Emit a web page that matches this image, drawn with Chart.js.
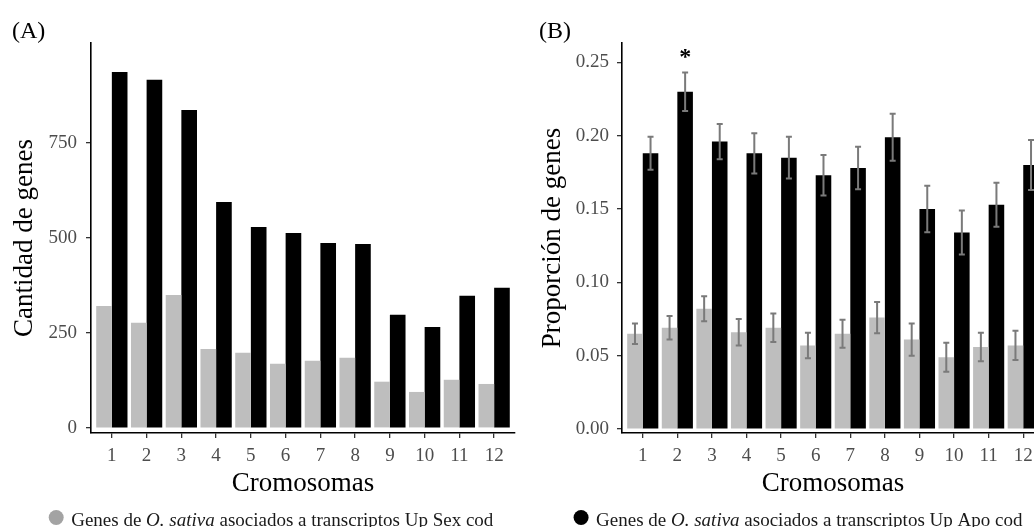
<!DOCTYPE html>
<html>
<head>
<meta charset="utf-8">
<script src="https://cdn.jsdelivr.net/npm/chart.js@4.4.1/dist/chart.umd.min.js"></script>
<style>
  html, body { margin: 0; padding: 0; background: #fff; overflow: hidden; }
  #lienzo { position: relative; width: 1034px; height: 527px; overflow: hidden; }
  canvas { position: absolute; top: 0; }
  #graficoA { left: 0; }
  #graficoB { left: 520px; }
</style>
</head>
<body>
<div id="lienzo">
  <canvas id="graficoA" width="542" height="527"></canvas>
  <canvas id="graficoB" width="556" height="527"></canvas>
</div>
<script>
const cromosomas = [1, 2, 3, 4, 5, 6, 7, 8, 9, 10, 11, 12];

// (A) cantidad de genes por cromosoma
const cantidadSex = [321, 277, 350, 208, 198, 169, 177, 185, 122, 95, 127, 116];
const cantidadApo = [937, 916, 837, 595, 529, 513, 487, 484, 298, 266, 348, 369];
const ticksCantidad = [0, 250, 500, 750];

// (B) proporción de genes por cromosoma, con su error
const proporcionSex = [0.065, 0.069, 0.082, 0.066, 0.069, 0.057, 0.065, 0.076, 0.061, 0.049, 0.056, 0.057];
const errorSex = [0.007, 0.008, 0.0085, 0.009, 0.0097, 0.0087, 0.0095, 0.0107, 0.011, 0.0099, 0.0097, 0.010];
const proporcionApo = [0.188, 0.230, 0.196, 0.188, 0.185, 0.173, 0.178, 0.199, 0.150, 0.134, 0.153, 0.180];
const errorApo = [0.0113, 0.0131, 0.012, 0.0137, 0.0142, 0.0138, 0.0145, 0.016, 0.0158, 0.015, 0.015, 0.017];
const ticksProporcion = [0, 0.05, 0.10, 0.15, 0.20, 0.25];
const significancia = ['', '*', '', '', '', '', '', '', '', '', '', ''];

const leyendaSex = ['Genes de ', 'O. sativa', ' asociados a transcriptos Up Sex cod'];
const leyendaApo = ['Genes de ', 'O. sativa', ' asociados a transcriptos Up Apo cod'];

const FUENTE = "'Liberation Serif', serif";
const GRIS = '#bebebe';
const NEGRO = '#000000';

Chart.defaults.font.family = FUENTE;

const puntos = (valores) => cromosomas.map((c, i) => ({x: c, y: valores[i]}));

// etiqueta del panel, barras de error, asteriscos y leyenda al pie
const anotaciones = {
  id: 'anotaciones',
  afterDatasetsDraw(chart) {
    const ctx = chart.ctx;
    const escalaY = chart.scales.y;
    ctx.save();
    chart.data.datasets.forEach((ds, d) => {
      if (!ds.errores) return;
      const meta = chart.getDatasetMeta(d);
      meta.data.forEach((barra, i) => {
        const v = ds.data[i].y;
        const e = ds.errores[i];
        const arriba = escalaY.getPixelForValue(v + e);
        const abajo = escalaY.getPixelForValue(v - e);
        ctx.strokeStyle = '#7a7a7a';
        ctx.lineWidth = 2;
        ctx.beginPath();
        ctx.moveTo(barra.x, arriba);
        ctx.lineTo(barra.x, abajo);
        ctx.moveTo(barra.x - 3, arriba);
        ctx.lineTo(barra.x + 3, arriba);
        ctx.moveTo(barra.x - 3, abajo);
        ctx.lineTo(barra.x + 3, abajo);
        ctx.stroke();
        if (ds.marcas && ds.marcas[i]) {
          ctx.fillStyle = '#000';
          ctx.font = `bold 24px ${FUENTE}`;
          ctx.textAlign = 'center';
          ctx.textBaseline = 'alphabetic';
          ctx.fillText(ds.marcas[i], barra.x, arriba - 8);
        }
      });
    });
    ctx.restore();
  },
  afterDraw(chart, args, opts) {
    const ctx = chart.ctx;
    ctx.save();
    ctx.fillStyle = '#000';
    ctx.font = `24px ${FUENTE}`;
    ctx.textAlign = 'left';
    ctx.textBaseline = 'alphabetic';
    ctx.fillText(opts.etiqueta, opts.etiquetaX, 37.5);

    const partes = opts.leyenda;
    const fuentes = partes.map((p, i) => (i === 1 ? 'italic ' : '') + `19px ${FUENTE}`);
    let ancho = 0;
    partes.forEach((p, i) => { ctx.font = fuentes[i]; ancho += ctx.measureText(p).width; });
    const r = 7.5, hueco = 15;
    let x = chart.width / 2 - (r + hueco + ancho) / 2;
    const yCirculo = chart.height - 9.5;
    ctx.fillStyle = opts.colorPunto;
    ctx.beginPath();
    ctx.arc(x + r, yCirculo, r, 0, Math.PI * 2);
    ctx.fill();
    x += r + hueco;
    ctx.fillStyle = '#1a1a1a';
    partes.forEach((p, i) => {
      ctx.font = fuentes[i];
      ctx.fillText(p, x, chart.height - 1.5);
      x += ctx.measureText(p).width;
    });
    ctx.restore();
  }
};

function opciones(cfg) {
  const ejeComun = {
    grid: { drawOnChartArea: false, offset: false, tickLength: 5, color: '#333333', lineWidth: 1.3 },
    border: { display: true, color: '#000', width: 1.6 }
  };
  return {
    responsive: false,
    animation: false,
    layout: { padding: { top: 43, right: cfg.derecha, bottom: 27, left: 0 } },
    datasets: { bar: { categoryPercentage: 0.9, barPercentage: 1.0, borderWidth: 0 } },
    scales: {
      x: {
        ...ejeComun,
        type: 'linear',
        offset: false,
        min: 0.4,
        max: 12.6,
        afterBuildTicks: (eje) => { eje.ticks = cromosomas.map(v => ({value: v})); },
        afterFit: (eje) => { eje.height = 67; },
        ticks: { color: '#4d4d4d', font: { size: 19 }, padding: 7, autoSkip: false, maxRotation: 0,
                 callback: (v) => String(v) },
        title: { display: true, text: 'Cromosomas', color: '#000', font: { size: 27 }, padding: 0 }
      },
      y: {
        ...ejeComun,
        min: cfg.min,
        max: cfg.max,
        afterBuildTicks: (eje) => { eje.ticks = cfg.ticks.map(v => ({value: v})); },
        afterFit: (eje) => { eje.width = cfg.anchoY; },
        ticks: { color: '#4d4d4d', font: { size: 19 }, padding: cfg.padTicks, callback: cfg.formato },
        title: { display: true, text: cfg.titulo, color: '#000', font: { size: 27 }, padding: { top: cfg.padTitulo } }
      }
    },
    plugins: {
      legend: { display: false },
      tooltip: { enabled: false },
      anotaciones: { etiqueta: cfg.etiqueta, etiquetaX: cfg.etiquetaX, leyenda: cfg.leyenda, colorPunto: cfg.colorPunto }
    }
  };
}

new Chart(document.getElementById('graficoA'), {
  type: 'bar',
  data: {
    datasets: [
      { label: 'Up Sex cod', data: puntos(cantidadSex), backgroundColor: GRIS },
      { label: 'Up Apo cod', data: puntos(cantidadApo), backgroundColor: NEGRO }
    ]
  },
  options: opciones({
    min: -13, max: 1013, ticks: ticksCantidad, formato: (v) => String(v),
    anchoY: 91, padTicks: 9, padTitulo: 9, derecha: 27,
    titulo: 'Cantidad de genes', etiqueta: '(A)', etiquetaX: 12,
    leyenda: leyendaSex, colorPunto: '#a3a3a3'
  }),
  plugins: [anotaciones]
});

new Chart(document.getElementById('graficoB'), {
  type: 'bar',
  data: {
    datasets: [
      { label: 'Up Sex cod', data: puntos(proporcionSex), errores: errorSex, backgroundColor: GRIS },
      { label: 'Up Apo cod', data: puntos(proporcionApo), errores: errorApo, marcas: significancia, backgroundColor: NEGRO }
    ]
  },
  options: opciones({
    min: -0.0027, max: 0.2632, ticks: ticksProporcion, formato: (v) => v.toFixed(2),
    anchoY: 102, padTicks: 8, padTitulo: 16.5, derecha: 32,
    titulo: 'Proporción de genes', etiqueta: '(B)', etiquetaX: 19,
    leyenda: leyendaApo, colorPunto: NEGRO
  }),
  plugins: [anotaciones]
});
</script>
</body>
</html>
